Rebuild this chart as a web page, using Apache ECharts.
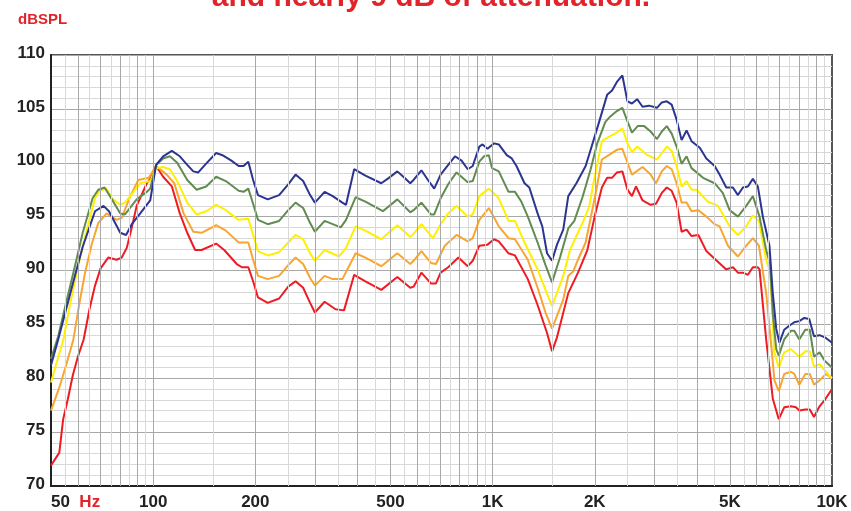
<!DOCTYPE html>
<html>
<head>
<meta charset="utf-8">
<script src="https://cdn.jsdelivr.net/npm/echarts@6/dist/echarts.min.js"></script>
<style>
html,body{margin:0;padding:0;background:#fff;}
#c{width:851px;height:511px;}
</style>
</head>
<body>
<div id="c"></div>
<script>
// ---- data ----
const xTickLabels = [50, 100, 200, 500, 1000, 2000, 5000, 10000];
const gridMajorHz = [60,70,80,90,100,200,300,400,500,600,700,800,900,1000,2000,3000,4000,5000,6000,7000,8000,9000];
const gridMinorHz = [55,65,75,85,95,150,250,350,450,550,650,750,850,950,1500,2500,3500,4500,5500,6500,7500,8500,9500];

const blueHz = [50,52.5,58,62,67.4,71.4,74.1,80,83.2,86.5,91.6,98,102,107,113.5,119.8,126,131.3,135.8,143,153.3,160,170,178.6,184.6,190.7,197,203.6,217.5,235,250,262.7,276.6,290,299.5,320,338,361,370,391,422,470,495,524,550,572,585,617,645,673,703,740,775,810,845,874,914,934,966,1010,1043,1101,1139,1176,1242,1283,1357,1401,1447,1497,1548,1615,1671,1766,1880,1945,2056,2175,2249,2324,2412,2497,2574,2666,2766,2890,3050,3152,3260,3370,3485,3605,3728,3856,4078,4264,4510,4665,4880,5106,5282,5463,5652,5846,6047,6255,6542,6692,6850,7000,7230,7500,7740,8010,8285,8570,8850,9190,9530,10000];
const blueDb = [81.2,83.6,88.8,92.2,95.5,96.0,95.5,93.5,93.3,94.3,95.3,96.5,99.8,100.6,101.1,100.6,99.8,99.2,99.1,99.9,100.9,100.7,100.2,99.7,99.7,100.1,98.4,97.0,96.6,97.0,98.0,98.9,98.3,97.0,96.3,97.3,96.9,96.3,96.1,99.4,98.8,98.1,98.6,99.2,98.6,98.1,98.4,99.3,98.4,97.6,98.9,99.8,100.6,100.2,99.4,99.7,101.5,101.7,101.3,101.8,101.7,100.7,100.4,99.7,98.1,97.7,95.3,94.1,91.6,90.9,92.4,93.8,96.9,98.1,99.7,101.2,103.7,106.3,106.7,107.5,108.1,105.7,105.5,105.9,105.2,105.3,105.1,105.6,105.7,105.4,104.0,102.1,103.0,102.0,101.4,100.4,99.7,98.9,97.7,97.7,97.0,97.7,97.8,98.5,97.8,95.0,92.3,87.9,84.6,83.3,84.5,84.9,85.2,85.3,85.6,85.5,83.9,84.0,83.8,83.3];

const greenHz = [50,52.5,55,58.2,62,66.3,68.9,71.9,75.6,80,82.6,89.4,95.8,98,102,107,112,117.7,126,134.3,143.3,153.3,163.7,178.6,184.6,190.7,197,203.6,217.5,235,250,262.7,276.6,290,299.5,320,338,357,370,395,422,475,524,572,585,617,658,673,703,740,783,845,874,914,944,975,996,1043,1114,1164,1215,1270,1357,1432,1497,1583,1671,1741,1840,1880,1945,2034,2149,2223,2324,2412,2507,2574,2676,2797,2921,3050,3152,3260,3370,3485,3605,3728,3856,4170,4510,4766,4993,5282,5588,5846,6116,6398,6570,6692,6850,6970,7230,7570,7740,8010,8340,8600,8850,9190,9530,10000];
const greenDb = [81.8,83.9,86.6,89.8,93.5,96.7,97.5,97.7,96.6,95.3,95.2,96.6,97.3,97.6,99.8,100.4,100.6,100.0,98.4,97.5,97.8,98.7,98.3,97.4,97.3,97.6,96.2,94.7,94.3,94.6,95.6,96.3,95.8,94.4,93.6,94.6,94.3,94.0,94.7,96.8,96.4,95.5,96.6,95.4,95.6,96.3,95.2,95.2,96.7,98.0,99.1,98.2,98.3,100.1,100.6,100.7,99.5,99.2,97.3,97.3,96.4,95.0,92.6,90.5,88.9,91.3,93.9,94.6,96.8,97.8,99.4,101.8,103.8,104.3,104.8,105.1,103.7,102.8,103.4,103.4,102.9,102.2,102.9,103.4,102.7,101.5,99.9,100.6,99.5,98.6,98.1,97.2,95.6,95.0,96.0,96.9,95.0,91.9,90.6,86.0,82.7,82.1,83.6,84.4,84.4,83.6,84.5,84.5,82.0,82.4,81.6,81.0];

const yellowHz = [50,52,54.4,57,60.4,64,67.4,69.5,72.9,75.6,80,82.6,87.5,91.6,98,102,107,112,117.7,126,134.3,143.3,153.3,163.7,178.6,190.7,197,203.6,217.5,235,250,262.7,276.6,290,299.5,320,353,370,395,422,470,524,572,585,617,667,703,740,783,845,874,914,975,1043,1114,1164,1242,1357,1432,1497,1615,1690,1766,1840,1925,1990,2099,2199,2324,2412,2497,2574,2666,2859,3050,3260,3370,3485,3605,3728,3856,3990,4300,4610,4993,5282,5588,5846,6090,6398,6570,6692,6750,6970,7230,7570,8010,8340,8600,8850,9190,9600,10000];
const yellowDb = [79.6,81.5,83.6,87.0,90.7,94.0,96.7,97.4,97.6,96.7,96.1,96.3,97.3,98.1,98.3,99.5,99.6,99.4,98.3,96.3,95.2,95.5,96.1,95.6,94.7,94.8,93.3,91.8,91.4,91.7,92.6,93.3,92.9,91.6,90.9,91.9,91.3,92.1,94.1,93.7,92.9,94.2,93.1,93.4,94.3,93.0,94.3,95.3,96.0,95.0,95.2,96.9,97.6,96.7,94.6,94.6,92.6,90.1,88.2,86.7,89.5,91.9,93.2,94.4,95.9,98.4,102.0,102.4,102.8,103.2,101.8,101.0,101.5,100.7,100.3,101.5,101.1,99.7,97.8,98.3,97.5,97.5,96.4,96.0,94.1,93.3,94.1,95.1,94.6,91.0,89.8,85.5,82.5,81.0,82.4,82.7,82.0,82.5,82.5,81.1,81.3,80.6,80.0];

const orangeHz = [50,53.1,55.5,58.2,60.5,63,66,68.9,72.9,78,80.8,85.6,90.4,97,102,109.6,115.4,122.9,131.3,138.9,153.3,163.7,178.6,190.7,197,203.6,217.5,235,250,262.7,276.6,290,299.5,320,338,361,395,422,470,524,572,585,617,658,681,723,783,845,874,914,975,1043,1114,1164,1270,1357,1432,1497,1615,1671,1727,1785,1880,2008,2099,2199,2324,2412,2497,2574,2766,2921,3030,3152,3260,3370,3485,3605,3728,3856,4040,4264,4510,4665,4935,5282,5588,5846,6090,6398,6600,6770,6970,7230,7570,7740,8010,8340,8600,8850,9190,9600,10000];
const orangeDb = [77.0,79.3,81.3,83.6,86.8,89.8,92.5,94.4,95.3,94.7,94.9,96.9,98.4,98.6,99.7,98.9,98.1,95.3,93.6,93.5,94.2,93.7,92.6,92.6,91.0,89.5,89.2,89.5,90.5,91.2,90.6,89.3,88.6,89.5,89.2,89.2,91.6,91.2,90.4,91.6,90.6,90.9,91.8,90.7,90.6,92.3,93.3,92.7,93.0,94.7,95.8,94.1,93.0,92.9,91.0,88.4,86.1,84.6,87.3,89.5,89.9,91.0,92.6,97.0,100.3,100.7,101.2,101.3,100.0,98.9,99.6,98.9,98.1,99.2,99.7,99.4,98.1,96.3,96.3,95.5,95.6,95.0,94.3,94.1,92.3,91.3,92.3,93.0,92.3,87.9,83.5,79.8,78.8,80.4,80.6,80.4,79.4,80.4,80.4,79.4,79.8,80.4,80.0];

const redHz = [50,52.9,54.3,56,58,60,62.4,65,67.4,70,73.7,78,80.8,83.6,86.5,89.4,95.8,98,102,107,113.5,119.8,126,132.9,138.9,153.3,161.9,176.3,182.6,190.7,197,203.6,217.5,235,250,262.7,276.6,290,299.5,320,344.6,365,391,422,470,524,572,585,617,658,681,703,740,793,845,874,914,966,1010,1043,1114,1164,1270,1357,1447,1497,1548,1671,1785,1902,2008,2099,2175,2249,2324,2412,2497,2574,2646,2766,2921,3030,3152,3260,3370,3485,3605,3728,3856,4040,4264,4510,4880,5106,5282,5463,5652,5846,6047,6116,6398,6692,6970,7230,7570,7830,8010,8340,8600,8850,9190,9530,10000];
const redDb = [71.9,73.1,76.2,78.0,80.3,82.0,83.6,86.5,88.6,90.2,91.2,91.0,91.2,92.1,94.0,96.0,98.1,98.5,99.7,98.7,97.8,95.3,93.5,91.9,91.9,92.5,91.9,90.6,90.3,90.3,89.0,87.5,87.0,87.4,88.5,89.0,88.4,87.0,86.1,87.1,86.4,86.3,89.6,89.0,88.2,89.4,88.4,88.5,89.8,88.8,88.8,89.8,90.3,91.2,90.4,90.9,92.3,92.4,92.9,92.7,91.6,91.4,89.2,86.8,84.2,82.5,83.8,87.9,89.8,91.9,95.3,97.7,98.6,98.6,99.1,99.2,97.5,96.9,97.8,96.5,96.1,96.2,97.2,97.7,97.4,96.3,93.6,93.8,93.2,93.3,91.8,91.1,90.1,90.3,89.8,89.8,89.6,90.3,90.3,90.1,83.6,78.1,76.2,77.3,77.4,77.3,77.0,77.1,77.1,76.4,77.4,78.0,79.0];

// ---- chart ----
const zip = (xs, ys) => xs.map((x, i) => [x, ys[i]]);
const fmtHz = v => v >= 1000 ? (v / 1000) + 'K' : String(v);

const curves = [
  { name: 'blue', hz: blueHz, db: blueDb, color: '#2b3590' },
  { name: 'green', hz: greenHz, db: greenDb, color: '#628b52' },
  { name: 'yellow', hz: yellowHz, db: yellowDb, color: '#fff000' },
  { name: 'orange', hz: orangeHz, db: orangeDb, color: '#f9a531' },
  { name: 'red', hz: redHz, db: redDb, color: '#ed1c24' }
];

const chart = echarts.init(document.getElementById('c'), null, { renderer: 'canvas' });

const vline = (list, color) => ({
  type: 'line', data: [], z: 1, silent: true, symbol: 'none',
  markLine: {
    silent: true, symbol: ['none', 'none'], animation: false,
    label: { show: false },
    lineStyle: { type: 'solid', color: color, width: 1 },
    data: list.map(v => ({ xAxis: v }))
  }
});

const series = [vline(gridMinorHz, '#d8d8d8'), vline(gridMajorHz, '#a8a8a8')];
curves.slice().reverse().forEach(c => {
  series.push({
    name: c.name, type: 'line', z: 3, symbol: 'none', smooth: false,
    lineStyle: { color: c.color, width: 2 },
    itemStyle: { color: c.color },
    data: zip(c.hz, c.db)
  });
});

chart.setOption({
  animation: false,
  title: {
    text: 'and nearly 9 dB of attenuation.',
    left: 431, top: -17, padding: 0, textAlign: 'center',
    textStyle: { color: '#e1232a', fontSize: 30, fontWeight: 'bold', fontFamily: 'Liberation Sans, Arial, sans-serif' }
  },
  graphic: [
    { type: 'text', left: 18, top: 12, style: { text: 'dBSPL', fill: '#e1232a', font: 'bold 15px "Liberation Sans", Arial, sans-serif' } }
  ],
  grid: { left: 51, right: 19, top: 55, bottom: 24, show: true, borderColor: '#555', borderWidth: 2, backgroundColor: 'transparent' },
  xAxis: {
    type: 'log', logBase: 10, min: 50, max: 10000,
    axisLine: { show: true, lineStyle: { color: '#222', width: 2 } },
    axisTick: { show: false },
    splitLine: { show: false },
    minorSplitLine: { show: false },
    axisLabel: {
      customValues: xTickLabels,
      showMinLabel: true, showMaxLabel: true,
      alignMinLabel: 'left',
      margin: 8,
      color: '#222', fontSize: 17, fontWeight: 'bold', fontFamily: 'Liberation Sans, Arial, sans-serif',
      formatter: v => v === 50 ? '50  {hz|Hz}' : fmtHz(v),
      rich: { hz: { color: '#e1232a', fontSize: 17, fontWeight: 'bold', fontFamily: 'Liberation Sans, Arial, sans-serif' } }
    }
  },
  yAxis: {
    type: 'value', min: 70, max: 110, interval: 5,
    axisLine: { show: true, lineStyle: { color: '#222', width: 2 } },
    axisTick: { show: false },
    axisLabel: { margin: 6, verticalAlign: 'bottom', lineHeight: 4, color: '#222', fontSize: 17, fontWeight: 'bold', fontFamily: 'Liberation Sans, Arial, sans-serif' },
    splitLine: { show: true, lineStyle: { color: '#a8a8a8', width: 1 } },
    minorTick: { show: false, splitNumber: 5 },
    minorSplitLine: { show: true, lineStyle: { color: '#d8d8d8', width: 1 } }
  },
  series: series
});
</script>
</body>
</html>
